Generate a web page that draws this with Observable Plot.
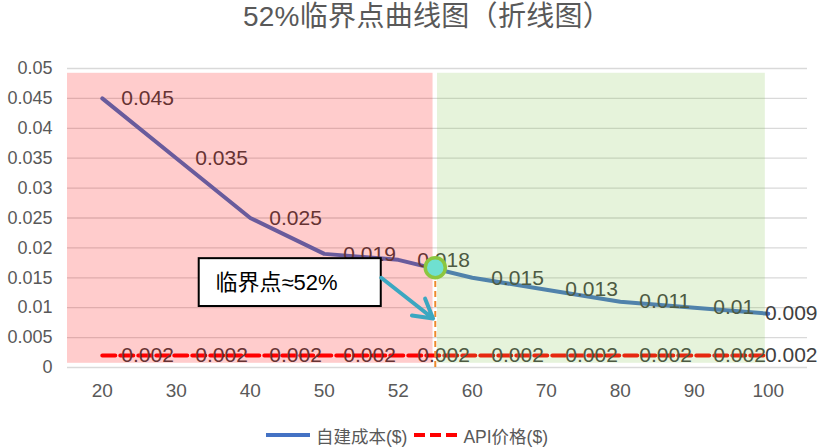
<!DOCTYPE html>
<html><head><meta charset="utf-8">
<script src="https://cdn.jsdelivr.net/npm/d3@7"></script>
<script src="https://cdn.jsdelivr.net/npm/@observablehq/plot@0.6"></script>
<style>
body{margin:0;background:#fff;font-family:"Liberation Sans","Noto Sans CJK SC",sans-serif;}
#wrap{position:relative;width:824px;height:448px;overflow:hidden}
#title{position:absolute;left:15px;top:1px;width:824px;text-align:center;font-size:28px;color:#595959;line-height:32px;white-space:nowrap;letter-spacing:0.3px}
#legend{position:absolute;left:-5px;top:423px;width:824px;height:24px;display:flex;justify-content:center;align-items:center;font-size:17.5px;color:#595959;white-space:nowrap}
#legend .item{display:flex;align-items:center;margin:0 3px}
#legend svg{margin-right:6px}
</style></head><body>
<div id="wrap"><div id="chart"></div><div id="title"></div><div id="legend"></div></div>
<script>
const titleText = "52%临界点曲线图（折线图）";
const xLabels = ["20","30","40","50","52","60","70","80","90","100"];
const costValues = [0.045,0.035,0.025,0.019,0.018,0.015,0.013,0.011,0.01,0.009];
const apiValues = [0.002,0.002,0.002,0.002,0.002,0.002,0.002,0.002,0.002,0.002];
const yTicks = [0,0.005,0.01,0.015,0.02,0.025,0.03,0.035,0.04,0.045,0.05];
const yTickLabels = ["0","0.005","0.01","0.015","0.02","0.025","0.03","0.035","0.04","0.045","0.05"];
const seriesNames = ["自建成本($)","API价格($)"];
// critical point (between categories 52 and 60, in category-index units)
const critical = {x: 4.5, y: 0.0167};
const redZone = {x1: -0.47, x2: 4.47, y1: 0.0007, y2: 0.0492};
const greenZone = {x1: 4.53, x2: 8.96, y1: 0.0007, y2: 0.0492};
const noteBox = {x1: 1.31, x2: 3.77, y1: 0.0102, y2: 0.0182, tx: 1.53, ty: 0.0142, text: "临界点≈52%"};
const noteArrow = {x1: 3.77, y1: 0.0150, x2: 4.47, y2: 0.0082};

const data = xLabels.map((label, i) => ({i, label, cost: costValues[i], api: apiValues[i]}));
const xTicks = xLabels.map((_, i) => i);
const head = data.slice(0, -1), tail = data.slice(-1);
const lab = {fill: "#404040", fontSize: 21, lineAnchor: "middle"};

const chart = Plot.plot({
  width: 824, height: 448,
  marginLeft: 67, marginRight: 17, marginTop: 68, marginBottom: 81,
  style: {fontFamily: '"Liberation Sans","Noto Sans CJK SC",sans-serif', fontSize: "19px", color: "#595959", background: "white", overflow: "visible"},
  x: {domain: [-0.47, 9.53], axis: null},
  y: {domain: [0, 0.05], axis: null},
  marks: [
    Plot.gridY(yTicks, {stroke: "#d9d9d9", strokeOpacity: 1, strokeWidth: 1.3}),
    Plot.line(data, {x: "i", y: "cost", stroke: "#4472c4", strokeWidth: 4}),
    Plot.line(data, {x: "i", y: "api", stroke: "#ff0000", strokeWidth: 4, strokeDasharray: "13,5"}),
    Plot.text(head, {x: "i", y: "cost", text: d => String(d.cost), textAnchor: "start", dx: 19, ...lab}),
    Plot.text(tail, {y: "cost", frameAnchor: "right", text: d => String(d.cost), textAnchor: "end", dx: 10, ...lab}),
    Plot.text(head, {x: "i", y: "api", text: d => String(d.api), textAnchor: "start", dx: 19, ...lab}),
    Plot.text(tail, {y: "api", frameAnchor: "right", text: d => String(d.api), textAnchor: "end", dx: 10, ...lab}),
    Plot.rect([redZone], {x1: "x1", x2: "x2", y1: "y1", y2: "y2", fill: "#ff0000", fillOpacity: 0.2}),
    Plot.rect([greenZone], {x1: "x1", x2: "x2", y1: "y1", y2: "y2", fill: "#80c34a", fillOpacity: 0.2}),
    Plot.ruleX([critical], {x: "x", y1: 0, y2: "y", stroke: "#ed8a2e", strokeWidth: 2, strokeDasharray: "6,4"}),
    Plot.dot([critical], {x: "x", y: "y", r: 10, fill: "#6fe0d0", stroke: "#8cc63f", strokeWidth: 3.5}),
    Plot.rect([noteBox], {x1: "x1", x2: "x2", y1: "y1", y2: "y2", fill: "white", stroke: "black", strokeWidth: 2}),
    Plot.text([noteBox], {x: "tx", y: "ty", text: "text", textAnchor: "start", fill: "black", fontSize: 22, lineAnchor: "middle"}),
    Plot.arrow([noteArrow], {x1: "x1", y1: "y1", x2: "x2", y2: "y2", stroke: "#3ba7c1", strokeWidth: 4}),
    Plot.axisY(yTicks, {tickSize: 0, tickPadding: 15, tickFormat: (d, i) => yTickLabels[i], fontSize: 18}),
    Plot.axisX(xTicks, {tickSize: 0, tickPadding: 16, tickFormat: d => xLabels[d], fontSize: 19})
  ]
});
document.getElementById("chart").appendChild(chart);
document.getElementById("title").textContent = titleText;

const legend = document.getElementById("legend");
const swatches = [
  '<svg width="44" height="8"><line x1="0" y1="4" x2="44" y2="4" stroke="#4472c4" stroke-width="4" stroke-linecap="round"/></svg>',
  '<svg width="44" height="8"><line x1="1" y1="4" x2="44" y2="4" stroke="#ff0000" stroke-width="4" stroke-dasharray="11,5"/></svg>'
];
seriesNames.forEach((name, k) => {
  const it = document.createElement("div");
  it.className = "item";
  it.innerHTML = swatches[k] + "<span>" + name + "</span>";
  legend.appendChild(it);
});
</script>
</body></html>
